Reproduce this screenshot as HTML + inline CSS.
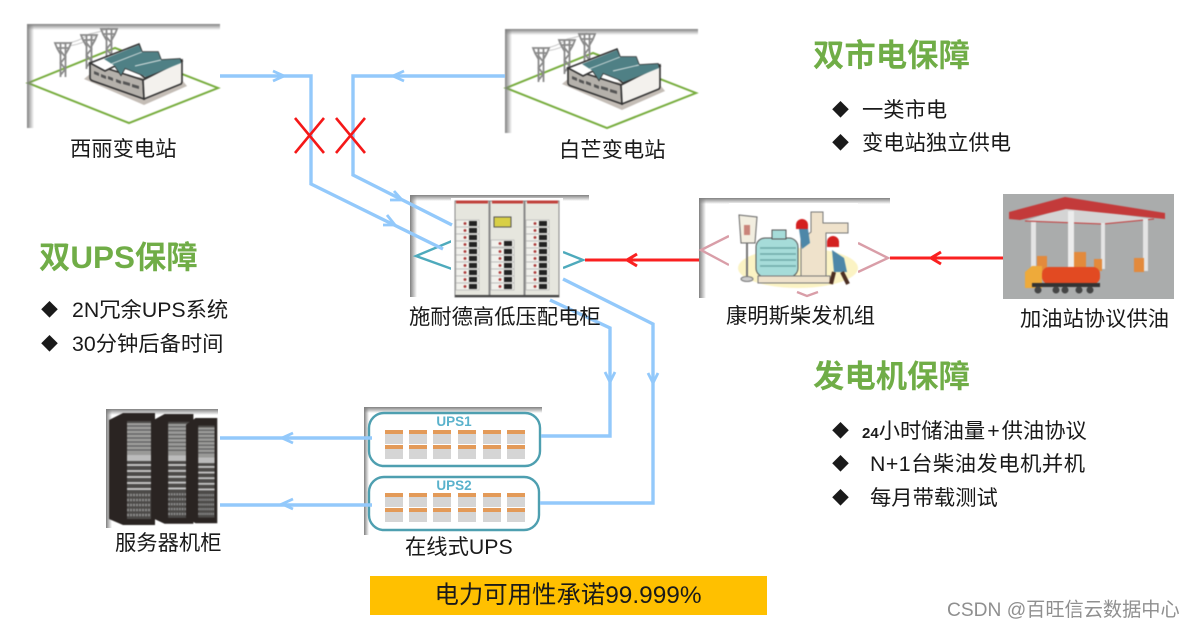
<!DOCTYPE html>
<html><head><meta charset="utf-8"><style>
html,body{margin:0;padding:0;background:#fff}
svg{display:block}
text{font-family:"Liberation Sans","Noto Sans CJK SC",sans-serif;fill:#1a1a1a;font-size:21.3px}
.h{fill:#70ad47;font-size:31.4px;font-weight:bold}
.d{font-size:17px}
.blue{fill:none;stroke:#93c9fb;stroke-width:3.4}
.ah{fill:none;stroke:#93c9fb;stroke-width:2.8}
.red{fill:none;stroke:#fa2020;stroke-width:3}
.pic{filter:blur(.45px)}
</style></head><body>
<svg width="1194" height="628" viewBox="0 0 1194 628" xmlns="http://www.w3.org/2000/svg">
<defs>
<linearGradient id="gt" x1="0" y1="0" x2="0" y2="1"><stop offset="0" stop-color="#808080"/><stop offset="1" stop-color="#808080" stop-opacity="0"/></linearGradient>
<linearGradient id="gl" x1="0" y1="0" x2="1" y2="0"><stop offset="0" stop-color="#808080"/><stop offset="1" stop-color="#808080" stop-opacity="0"/></linearGradient>
<g id="tower" fill="none" stroke="#8a8a8a" stroke-width="1.8">
<path d="M-8 -2L8 -2L6 3L-6 3ZM-2.5 -2L-2.5 32M2.5 -2L2.5 32M-2.5 6L2.5 12L-2.5 18L2.5 24L-2.5 30M-6 3L-2 10M6 3L2 10"/>
</g>
<g id="sub" class="pic">
<rect x="0" y="0" width="193" height="104" fill="#fff"/>
<path d="M1 59L88 24L191 64L102 99Z" fill="#fff" stroke="#76ac3c" stroke-width="2"/>
<path d="M36 20Q52 18 62 10M62 10Q74 8 82 4M42 22Q56 20 68 12" fill="none" stroke="#c8c8c8" stroke-width="1"/>
<use href="#tower" x="36" y="21"/>
<use href="#tower" x="62" y="13"/>
<use href="#tower" x="82" y="7"/>
<path d="M57 55L117 81L160 62L155 56L63 50Z" fill="#c4bdb6"/>
<path d="M63 39L63 54Q63 56 66 57L117 75L116 56Z" fill="#b5b1ab" stroke="#333" stroke-width="1.6"/>
<path d="M116 56L117 75L154 60Q155 59 155 57L155 36Z" fill="#f3f1ed" stroke="#333" stroke-width="1.6"/>
<path d="M63 39L112 20L115 28L131 28L134 36L153 35L155 37L118 54L113 50L98 44L94 51L88 42L78 47Z" fill="#fff" stroke="#333" stroke-width="1.6"/>
<path d="M77 35L112 21L115 28L131 28L134 36L153 35L154 39L119 53L113 50L98 44L94 51L88 42Z" fill="#4f8085"/>
<path d="M84 40L115 28M108 42L134 36" stroke="#d9e2e2" stroke-width=".9"/>
<path d="M67 47l5 2v3l-5-2zM74 50l5 2v3l-5-2zM81 52l5 2v3l-5-2zM89 55l5 2v3l-5-2zM96 57l7 2v3l-7-2zM105 60l7 2v3l-7-2z" fill="#555"/>
<rect x="0" y="0" width="193" height="6" fill="url(#gt)"/>
<rect x="0" y="0" width="7" height="104" fill="url(#gl)"/>
</g>
<g id="modrow">
<g id="m"><rect x="0" y="0" width="18" height="14" fill="#d5d5d5"/><rect x="0" y="0" width="18" height="4" fill="#e39a58"/></g>
<use href="#m" x="24"/><use href="#m" x="48"/><use href="#m" x="73"/><use href="#m" x="98"/><use href="#m" x="122"/>
</g>
<g id="cell"><rect x="0" y="0" width="23" height="7" fill="#f1f1ec" stroke="#aaa" stroke-width=".6"/><circle cx="9" cy="3.5" r="1.4" fill="#a33"/><rect x="13" y="1" width="8" height="5" fill="#222"/></g>
<g id="rack">
<path d="M0 7L14 0L46 0L46 112L14 112L0 106Z" fill="#2a2422"/>
<rect x="18" y="8" width="24" height="98" fill="#4c4a48"/>
<rect x="18" y="10" width="24" height="32" fill="#9a9a98"/>
<path d="M18 13H42M18 17H42M18 21H42M18 25H42M18 29H42M18 33H42M18 37H42" stroke="#555" stroke-width="1"/>
<rect x="18" y="42" width="24" height="6" fill="#bbb"/>
<path d="M18 52H42M18 58H42M18 64H42M18 70H42M18 76H42" stroke="#c2c2c2" stroke-width="2"/>
<path d="M18 82H42M18 87H42M18 92H42M18 97H42M18 102H42" stroke="#8a8a8a" stroke-width="2.4" stroke-dasharray="2 1"/>
</g>
</defs>

<use href="#sub" x="27" y="24"/>
<use href="#sub" x="505" y="29"/>

<!-- cabinet -->
<rect x="410" y="195" width="179" height="102" fill="#fff"/>
<rect x="410" y="195" width="179" height="6" fill="url(#gt)"/>
<rect x="410" y="195" width="7" height="102" fill="url(#gl)"/>
<path d="M452 241L416 256L452 269M563 252L583 260L563 268" fill="none" stroke="#4eaabc" stroke-width="2.4"/>
<rect x="451" y="198" width="112" height="99" fill="#fff"/>
<g class="pic">
<rect x="455" y="201" width="34" height="96" fill="#e6e6de" stroke="#888"/>
<rect x="490" y="201" width="34" height="96" fill="#e6e6de" stroke="#888"/>
<rect x="525" y="201" width="34" height="96" fill="#e6e6de" stroke="#888"/>
<path d="M456 202H488M492 202H523M527 202H558" stroke="#c0413c" stroke-width="3"/>
<rect x="494" y="217" width="17" height="10" fill="#d8cf45" stroke="#555"/>
<use href="#cell" x="456" y="220"/><use href="#cell" x="456" y="227"/><use href="#cell" x="456" y="234"/><use href="#cell" x="456" y="241"/><use href="#cell" x="456" y="248"/><use href="#cell" x="456" y="255"/><use href="#cell" x="456" y="262"/><use href="#cell" x="456" y="269"/><use href="#cell" x="456" y="276"/><use href="#cell" x="456" y="283"/>
<use href="#cell" x="491" y="240"/><use href="#cell" x="491" y="248"/><use href="#cell" x="491" y="255"/><use href="#cell" x="491" y="262"/><use href="#cell" x="491" y="269"/><use href="#cell" x="491" y="276"/><use href="#cell" x="491" y="283"/>
<use href="#cell" x="526" y="220"/><use href="#cell" x="526" y="227"/><use href="#cell" x="526" y="234"/><use href="#cell" x="526" y="241"/><use href="#cell" x="526" y="248"/><use href="#cell" x="526" y="255"/><use href="#cell" x="526" y="262"/><use href="#cell" x="526" y="269"/><use href="#cell" x="526" y="276"/><use href="#cell" x="526" y="283"/>
<rect x="455" y="295" width="104" height="2" fill="#444"/>
</g>

<!-- generator -->
<rect x="699" y="198" width="191" height="100" fill="#fff"/>
<rect x="699" y="198" width="191" height="6" fill="url(#gt)"/>
<rect x="699" y="198" width="7" height="100" fill="url(#gl)"/>
<path d="M729 236L701 250L729 265M858 243L888 258L858 272M797 292L807 296L818 292" fill="none" stroke="#d99ea8" stroke-width="2.4"/>
<rect x="729" y="203" width="129" height="86" fill="#fff"/>
<g class="pic">
<ellipse cx="798" cy="268" rx="60" ry="20" fill="#fbf3c4"/>
<path d="M739 215L757 217L755 243L741 243Z" fill="#f2eee0" stroke="#666"/>
<rect x="744" y="225" width="6" height="10" fill="#c9847a"/>
<path d="M747 243V277" stroke="#777" stroke-width="2"/><ellipse cx="747" cy="279" rx="6" ry="2.5" fill="#ccc" stroke="#777"/>
<rect x="756" y="238" width="42" height="39" rx="9" fill="#a6dcd9" stroke="#555"/>
<path d="M760 248H796M760 254H796M760 260H796M760 266H796" stroke="#6eaaa8" stroke-width="1.4"/>
<rect x="772" y="230" width="14" height="9" fill="#a6dcd9" stroke="#555"/>
<path d="M811 212H823V223H848V233H826V276H801V240L811 232Z" fill="#efe2cb" stroke="#777"/>
<rect x="758" y="276" width="72" height="7" fill="#efe2cb" stroke="#777"/>
<path d="M796 225a6 6 0 0 1 12 0v4h-12z" fill="#d42020"/>
<path d="M799 229l9 0l2 14l-8 6z" fill="#4d87a8"/>
<path d="M827 242a6 6 0 0 1 12 0v5h-12z" fill="#d42020"/>
<path d="M832 250l12 8l3 14h-13z" fill="#4d87a8"/>
<path d="M834 272l-3 12M842 272l6 12" stroke="#4b2e22" stroke-width="4" fill="none"/>
</g>

<!-- fuel station -->
<rect x="1003" y="194" width="171" height="105" fill="#aaacac"/>
<g class="pic">
<path d="M1025 221L1066 207L1154 219L1103 224Z" fill="#d4d4d4"/>
<path d="M1009 212L1065 197L1165 213L1165 219L1066 209L1020 220L1009 219Z" fill="#c33a3a"/>
<path d="M1025 221L1103 224L1154 219" fill="none" stroke="#c33a3a" stroke-width="1"/>
<rect x="1031" y="222" width="5" height="50" fill="#e4e4e4"/>
<rect x="1068" y="211" width="6" height="60" fill="#ececec"/>
<rect x="1101" y="223" width="4" height="46" fill="#e4e4e4"/>
<rect x="1143" y="219" width="5" height="52" fill="#e4e4e4"/>
<rect x="1037" y="256" width="10" height="16" fill="#e38a3c"/>
<rect x="1074" y="252" width="12" height="18" fill="#e38a3c"/>
<rect x="1094" y="259" width="8" height="12" fill="#e38a3c"/>
<rect x="1134" y="258" width="10" height="14" fill="#e38a3c"/>
<rect x="1042" y="267" width="58" height="17" rx="7" fill="#e24a22"/>
<path d="M1025 288V272L1032 266H1042V288Z" fill="#eeaa3a"/>
<rect x="1032" y="283" width="68" height="4" fill="#333"/>
<circle cx="1038" cy="290" r="3.5" fill="#444"/><circle cx="1056" cy="290" r="3.5" fill="#444"/><circle cx="1065" cy="290" r="3.5" fill="#444"/><circle cx="1079" cy="290" r="3.5" fill="#444"/><circle cx="1090" cy="290" r="3.5" fill="#444"/>
</g>

<!-- servers -->
<rect x="106" y="409" width="112" height="119" fill="#fff"/>
<rect x="106" y="409" width="112" height="6" fill="url(#gt)"/>
<rect x="106" y="409" width="6" height="119" fill="url(#gl)"/>
<g class="pic">
<use href="#rack" x="109" y="413"/>
<use href="#rack" x="152" y="414" transform="translate(152 414) scale(.9 .98) translate(-152 -414)"/>
<use href="#rack" x="186" y="418" transform="translate(186 418) scale(.68 .94) translate(-186 -418)"/>
</g>

<!-- UPS -->
<rect x="364" y="407" width="178" height="128" fill="#fff"/>
<rect x="364" y="407" width="178" height="6" fill="url(#gt)"/>
<rect x="364" y="407" width="5" height="128" fill="url(#gl)"/>
<rect x="369" y="413" width="171" height="53" rx="15" fill="#fff" stroke="#4e9fb0" stroke-width="2.4"/>
<rect x="369" y="477" width="170" height="53" rx="15" fill="#fff" stroke="#4e9fb0" stroke-width="2.4"/>
<text x="454" y="426" text-anchor="middle" style="font-size:13.5px;font-weight:bold;fill:#5ab2cc">UPS1</text>
<text x="454" y="490" text-anchor="middle" style="font-size:13.5px;font-weight:bold;fill:#5ab2cc">UPS2</text>
<use href="#modrow" x="385" y="430"/><use href="#modrow" x="385" y="445"/>
<use href="#modrow" x="385" y="493"/><use href="#modrow" x="385" y="508"/>

<!-- connectors -->
<path class="blue" d="M220 76H311V184L443 249"/>
<path class="blue" d="M505 76H353V175L452 225"/>
<path class="blue" d="M563 279L653 324V503H540"/>
<path class="blue" d="M550 300L610 328V436H541"/>
<path class="blue" d="M220 438H372M220 505H372"/>
<path class="ah" d="M273 71L284 76L273 81M404 71L393 76L404 81"/>
<path class="ah" d="M605 372L610 382L615 372M648 373L653 383L658 373"/>
<path class="ah" d="M293 433L282 438L293 443M293 499L282 504L293 509"/>
<path class="ah" d="M394 191L402 200L390 200M387 215L395 225L383 225"/>
<path class="red" d="M585 260H699M890 258H1003"/>
<path class="red" d="M637 254L627 260L637 266M941 252L931 258L941 264"/>
<path d="M295 118L324 153M324 118L295 153M336 118L365 153M365 118L336 153" stroke="#f51818" stroke-width="2.6" fill="none"/>

<!-- labels -->
<text x="70" y="156">西丽变电站</text>
<text x="559" y="157">白芒变电站</text>
<text x="409" y="324">施耐德高低压配电柜</text>
<text x="726" y="323">康明斯柴发机组</text>
<text x="1020" y="326">加油站协议供油</text>
<text x="115" y="550">服务器机柜</text>
<text x="405" y="554">在线式UPS</text>

<text class="h" x="813" y="66">双市电保障</text>
<text class="d" x="832" y="116">◆</text><text x="862" y="117">一类市电</text>
<text class="d" x="832" y="149">◆</text><text x="862" y="150">变电站独立供电</text>

<text class="h" x="39" y="268">双UPS保障</text>
<text class="d" x="41" y="316">◆</text><text x="72" y="317">2N冗余UPS系统</text>
<text class="d" x="41" y="350">◆</text><text x="72" y="351">30分钟后备时间</text>

<text class="h" x="813" y="387">发电机保障</text>
<text class="d" x="832" y="437">◆</text><text x="862" y="438"><tspan style="font-size:15px;font-weight:bold">24</tspan>小时储油量<tspan dx="2">+</tspan><tspan dx="2">供油协议</tspan></text>
<text class="d" x="832" y="470">◆</text><text x="870" y="471" textLength="215">N+1台柴油发电机并机</text>
<text class="d" x="832" y="504">◆</text><text x="870" y="505">每月带载测试</text>

<rect x="370" y="576" width="397" height="39" fill="#ffc000"/>
<text x="568" y="603" text-anchor="middle" style="font-size:24.4px">电力可用性承诺99.999%</text>
<text x="947" y="616" style="font-size:19.2px;fill:#8f8f8f">CSDN @百旺信云数据中心</text>
</svg>
</body></html>
